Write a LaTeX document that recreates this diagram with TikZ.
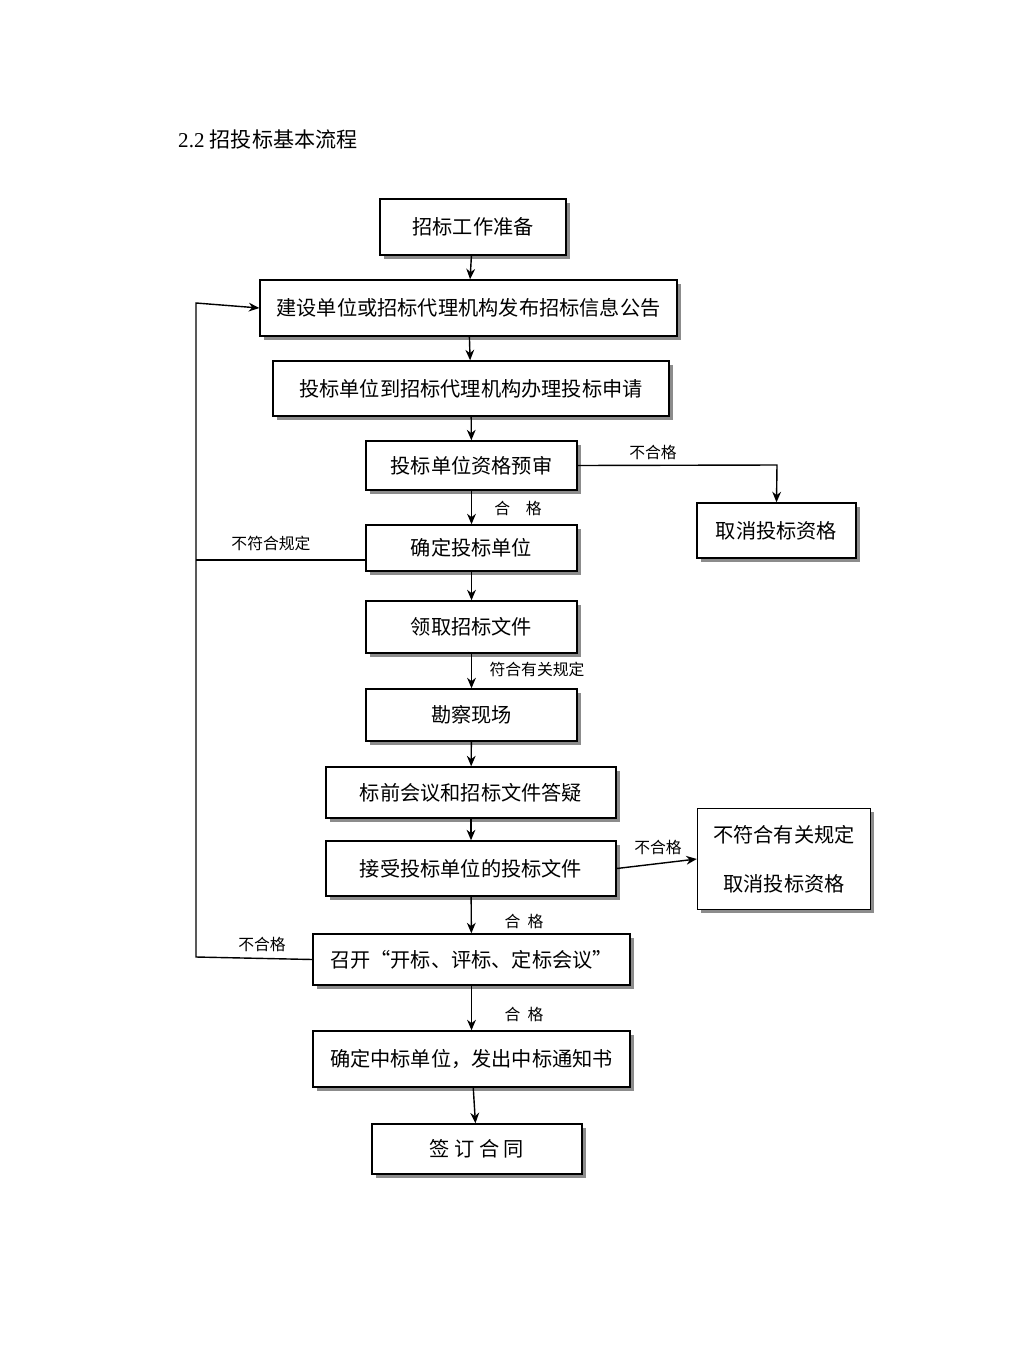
\documentclass[tikz,border=0pt]{standalone}
\usepackage{fontspec}
\setmainfont{Liberation Serif}
\newfontfamily\cjk{Noto Sans CJK SC}
\usetikzlibrary{shadows,arrows.meta}
\begin{document}
\begin{tikzpicture}[x=0.02cm,y=-0.02cm,
 bx/.style={draw,fill=white,thick,font=\cjk\fontsize{11.5pt}{14pt}\selectfont,inner sep=0pt,align=center,
   drop shadow={shadow xshift=0.07cm,shadow yshift=-0.07cm,fill=black!45,opacity=1}},
 lb/.style={font=\cjk\fontsize{9pt}{11pt}\selectfont,inner sep=1pt},
 ar/.style={-{Stealth[length=6pt,width=5pt]},thick},
 ln/.style={thick}]
\useasboundingbox (0,0) rectangle (1008,1345);
\node[anchor=west,font=\fontsize{12pt}{14pt}\selectfont] (t) at (172,140) {2.2 {\cjk 招投标基本流程}};
\def\B#1#2#3#4#5#6{\node[bx,minimum width={(#4-#2)*0.02cm},minimum height={(#5-#3)*0.02cm}] (#1) at ({(#2+#4)/2},{(#3+#5)/2}) {#6};}
\B{b1}{380}{199}{566}{255}{招标工作准备}
\B{b2}{260}{280}{677}{336}{建设单位或招标代理机构发布招标信息公告}
\B{b3}{273}{361}{669}{416}{投标单位到招标代理机构办理投标申请}
\B{b4}{366}{441}{577}{490}{投标单位资格预审}
\B{b5}{697}{503}{856}{558}{取消投标资格}
\B{b6}{366}{525}{577}{571}{确定投标单位}
\B{b7}{366}{601}{577}{653}{领取招标文件}
\B{b8}{366}{689}{577}{741}{勘察现场}
\B{b9}{326}{767}{616}{818}{标前会议和招标文件答疑}
\B{b10}{326}{841}{616}{896}{接受投标单位的投标文件}
\node[bx,minimum width={173*0.02cm},minimum height={101*0.02cm}] (b11) at (784,859) {不符合有关规定\\[14pt]取消投标资格};
\B{b12}{313}{934}{630}{985}{召开“开标、评标、定标会议”}
\B{b13}{313}{1031}{630}{1087}{确定中标单位，发出中标通知书}
\B{b14}{372}{1124}{582}{1174}{签\ 订\ 合\ 同}
\draw[ar] (b1) -- (b2);
\draw[ar] (b2) -- (b3);
\draw[ar] (b3) -- (b4);
\draw[ar] (b4) -- (b6);
\draw[ar] (b6) -- (b7);
\draw[ar] (b7) -- (b8);
\draw[ar] (b8) -- (b9);
\draw[ar] (b9) -- (b10);
\draw[ar] (b10) -- (b12);
\draw[ar] (b12) -- (b13);
\draw[ar] (b13) -- (b14);
\draw[ar] (b4.east) -- (777,465) -- (b5.north);
\draw[ar] (b10.east) -- (b11.west);
\coordinate (l1) at (196,560);
\coordinate (l2) at (196,957);
\coordinate (l0) at (196,303);
\draw[ln] (b6.west |- l1) -- (l1);
\draw[ar] (b12.west) -- (l2) -- (l0) -- (b2.west);
\node[lb] (n1) at (653,452) {不合格};
\node[lb] (n2) at (518,508) {合\quad 格};
\node[lb] (n3) at (271,543) {不符合规定};
\node[lb] (n4) at (537,669) {符合有关规定};
\node[lb] (n5) at (658,847) {不合格};
\node[lb] (n6) at (524,921) {合\ \ 格};
\node[lb] (n7) at (262,944) {不合格};
\node[lb] (n8) at (524,1014) {合\ \ 格};
\end{tikzpicture}
\end{document}
